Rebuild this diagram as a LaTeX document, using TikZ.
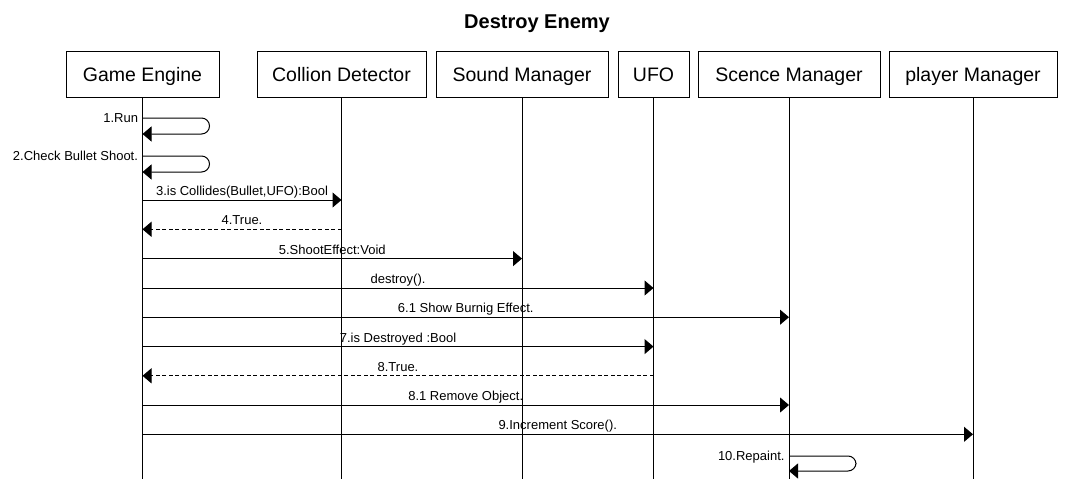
\documentclass[tikz,border=0pt]{standalone}
\usepackage{fontspec}
\setmainfont{Liberation Sans}
\usetikzlibrary{arrows.meta}
\begin{document}
\begin{tikzpicture}[x=1pt,y=-1pt,
  obj/.style={draw,line width=1pt,minimum width=#1,minimum height=46pt,inner sep=0pt,text height=15pt,text depth=0pt,font=\fontsize{19.5}{22}\selectfont},
  life/.style={line width=1pt},
  msg/.style={line width=1pt,-{Triangle[length=9pt,width=15pt]}},
  ret/.style={msg,dash pattern=on 4pt off 2.5pt},
  lbl/.style={anchor=base,yshift=4.5pt,inner sep=0pt,font=\fontsize{13}{15}\selectfont},
  slbl/.style={anchor=base east,xshift=-4pt,yshift=-4pt,inner sep=0pt,font=\fontsize{13}{15}\selectfont},
  selfm/.style={msg,rounded corners=8pt}]
\useasboundingbox (0,0) rectangle (1072,479);
\node[font=\fontsize{20}{24}\selectfont\bfseries,anchor=base] (title) at (537,28) {Destroy Enemy};
\node[obj=153pt] (ge) at (142.5,74) {Game Engine};
\node[obj=169pt] (cd) at (341.5,74) {Collion Detector};
\node[obj=172pt] (sm) at (522,74) {Sound Manager};
\node[obj=71pt] (ufo) at (653.5,74) {UFO};
\node[obj=182pt] (scm) at (789,74) {Scence Manager};
\node[obj=168pt] (pm) at (973,74) {player Manager};
\foreach \n in {ge,cd,sm,ufo,scm,pm}{
  \coordinate (\n-end) at (\n.south |- 0,479);
  \draw[life] (\n.south) -- (\n-end);
}
% self messages
\draw[selfm] (ge.south |- 0,118) node[slbl]{1.Run} -- ++(67,0) -- ++(0,16) -- (ge.south |- 0,134);
\draw[selfm] (ge.south |- 0,156) node[slbl]{2.Check Bullet Shoot.} -- ++(67,0) -- ++(0,16) -- (ge.south |- 0,172);
% messages
\draw[msg] (ge.south |- 0,200) -- node[lbl]{3.is Collides(Bullet,UFO):Bool} (cd.south |- 0,200);
\draw[ret] (cd.south |- 0,229.3) -- node[lbl]{4.True.} (ge.south |- 0,229.3);
\draw[msg] (ge.south |- 0,258.6) -- node[lbl]{5.ShootEffect:Void} (sm.south |- 0,258.6);
\draw[msg] (ge.south |- 0,288) -- node[lbl]{destroy().} (ufo.south |- 0,288);
\draw[msg] (ge.south |- 0,317.2) -- node[lbl]{6.1 Show Burnig Effect.} (scm.south |- 0,317.2);
\draw[msg] (ge.south |- 0,346.6) -- node[lbl]{7.is Destroyed :Bool} (ufo.south |- 0,346.6);
\draw[ret] (ufo.south |- 0,375.8) -- node[lbl]{8.True.} (ge.south |- 0,375.8);
\draw[msg] (ge.south |- 0,405) -- node[lbl]{8.1 Remove Object.} (scm.south |- 0,405);
\draw[msg] (ge.south |- 0,434.3) -- node[lbl]{9.Increment Score().} (pm.south |- 0,434.3);
\draw[selfm] (scm.south |- 0,456) node[slbl]{10.Repaint.} -- ++(67,0) -- ++(0,15) -- (scm.south |- 0,471);
\end{tikzpicture}
\end{document}
